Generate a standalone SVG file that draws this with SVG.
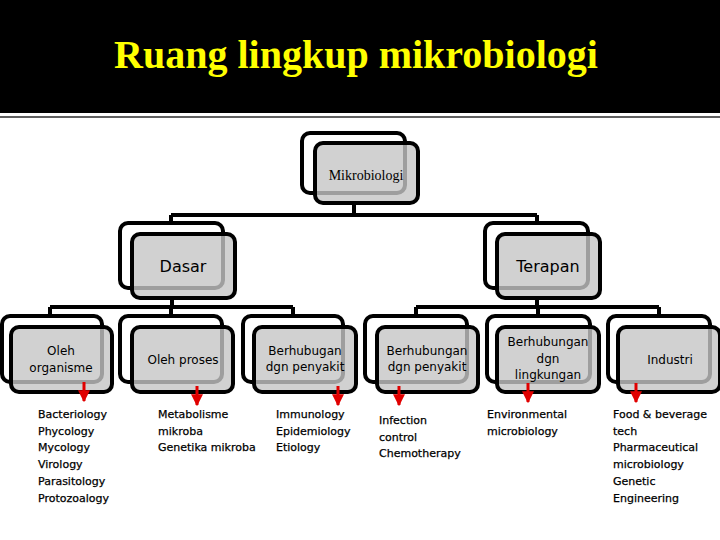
<svg xmlns="http://www.w3.org/2000/svg" width="720" height="540" viewBox="0 0 720 540">
<defs>
<style>
.back{fill:none;stroke:#000;stroke-width:4}
.front{fill:#c6c6c6;fill-opacity:0.8;stroke:#000;stroke-width:4}
.conn{fill:none;stroke:#000;stroke-width:4}
.lbl{font-family:"DejaVu Sans",sans-serif;font-size:12px;fill:#000;text-anchor:middle}
.lbl2{font-family:"DejaVu Sans",sans-serif;font-size:16px;fill:#000;text-anchor:middle}
.lst{font-family:"DejaVu Sans",sans-serif;font-size:11px;fill:#000;stroke:#000;stroke-width:0.25}
.arr{stroke:#e00000;stroke-width:3;fill:none}
</style>
<marker id="ah" viewBox="0 0 10 10" refX="9" refY="5" markerWidth="4" markerHeight="4" markerUnits="strokeWidth" orient="auto">
<path d="M0,0 L10,5 L0,10 z" fill="#e00000"/>
</marker>
</defs>
<rect x="0" y="0" width="720" height="540" fill="#fff"/>
<rect x="0" y="0" width="720" height="113" fill="#000"/>
<rect x="0" y="116" width="720" height="2" fill="#606060"/>
<text x="356" y="68" font-family="Liberation Serif,serif" font-weight="bold" font-size="40" fill="#ffff00" text-anchor="middle">Ruang lingkup mikrobiologi</text>

<g id="connectors">
<path class="conn" d="M354,203 V215 M171,215 H537 M171,215 V223 M537,215 V223"/>
<path class="conn" d="M172,298 V307 M50,307 H293 M50,307 V316 M171,307 V316 M293,307 V316"/>
<path class="conn" d="M537,298 V307 M416,307 H659 M416,307 V316 M538,307 V316 M659,307 V316"/>
</g>

<g id="n-mikrobiologi">
<rect class="back" x="302" y="133" width="103" height="60" rx="8"/>
<rect class="front" x="315" y="143" width="103" height="60" rx="8"/>
<text x="366" y="180" font-family="Liberation Serif,serif" font-size="14" text-anchor="middle">Mikrobiologi</text>
</g>

<g id="n-dasar">
<rect class="back" x="120" y="223" width="103" height="65" rx="8"/>
<rect class="front" x="132" y="234" width="103" height="64" rx="8"/>
<text class="lbl2" x="183" y="272">Dasar</text>
</g>

<g id="n-terapan">
<rect class="back" x="485" y="223" width="103" height="65" rx="8"/>
<rect class="front" x="497" y="234" width="103" height="64" rx="8"/>
<text class="lbl2" x="548" y="272">Terapan</text>
</g>

<g id="n-organisme">
<rect class="back" x="2" y="316" width="100" height="66" rx="8"/>
<rect class="front" x="11" y="327" width="101" height="65" rx="8"/>
<text class="lbl" x="61" y="355">Oleh</text>
<text class="lbl" x="61" y="372">organisme</text>
</g>

<g id="n-proses">
<rect class="back" x="120" y="316" width="102" height="66" rx="8"/>
<rect class="front" x="132" y="327" width="101" height="65" rx="8"/>
<text class="lbl" x="183" y="364">Oleh proses</text>
</g>

<g id="n-penyakit1">
<rect class="back" x="243" y="316" width="100" height="66" rx="8"/>
<rect class="front" x="254" y="327" width="102" height="65" rx="8"/>
<text class="lbl" x="305" y="355">Berhubugan</text>
<text class="lbl" x="305" y="371">dgn penyakit</text>
</g>

<g id="n-penyakit2">
<rect class="back" x="365" y="316" width="102" height="66" rx="8"/>
<rect class="front" x="377" y="327" width="101" height="65" rx="8"/>
<text class="lbl" x="427" y="355">Berhubungan</text>
<text class="lbl" x="427" y="371">dgn penyakit</text>
</g>

<g id="n-lingkungan">
<rect class="back" x="487" y="316" width="103" height="66" rx="8"/>
<rect class="front" x="497" y="327" width="102" height="65" rx="8"/>
<text class="lbl" x="548" y="346">Berhubungan</text>
<text class="lbl" x="548" y="363">dgn</text>
<text class="lbl" x="548" y="379">lingkungan</text>
</g>

<g id="n-industri">
<rect class="back" x="608" y="316" width="102" height="66" rx="8"/>
<rect class="front" x="618" y="327" width="102" height="65" rx="8"/>
<text class="lbl" x="670" y="364">Industri</text>
</g>

<g id="arrows">
<line class="arr" x1="84" y1="382" x2="84" y2="401" marker-end="url(#ah)"/>
<line class="arr" x1="197" y1="386" x2="197" y2="405" marker-end="url(#ah)"/>
<line class="arr" x1="338" y1="386" x2="338" y2="405" marker-end="url(#ah)"/>
<line class="arr" x1="399" y1="386" x2="399" y2="405" marker-end="url(#ah)"/>
<line class="arr" x1="528" y1="383" x2="528" y2="402" marker-end="url(#ah)"/>
<line class="arr" x1="636" y1="383" x2="636" y2="402" marker-end="url(#ah)"/>
</g>

<g id="lists">
<text class="lst" x="38" y="418">Bacteriology</text>
<text class="lst" x="38" y="435">Phycology</text>
<text class="lst" x="38" y="451">Mycology</text>
<text class="lst" x="38" y="468">Virology</text>
<text class="lst" x="38" y="485">Parasitology</text>
<text class="lst" x="38" y="502">Protozoalogy</text>

<text class="lst" x="158" y="418">Metabolisme</text>
<text class="lst" x="158" y="435">mikroba</text>
<text class="lst" x="158" y="451">Genetika mikroba</text>

<text class="lst" x="276" y="418">Immunology</text>
<text class="lst" x="276" y="435">Epidemiology</text>
<text class="lst" x="276" y="451">Etiology</text>

<text class="lst" x="379" y="424">Infection</text>
<text class="lst" x="379" y="441">control</text>
<text class="lst" x="379" y="457">Chemotherapy</text>

<text class="lst" x="487" y="418">Environmental</text>
<text class="lst" x="487" y="435">microbiology</text>

<text class="lst" x="613" y="418">Food &amp; beverage</text>
<text class="lst" x="613" y="435">tech</text>
<text class="lst" x="613" y="451">Pharmaceutical</text>
<text class="lst" x="613" y="468">microbiology</text>
<text class="lst" x="613" y="485">Genetic</text>
<text class="lst" x="613" y="502">Engineering</text>
</g>
</svg>
